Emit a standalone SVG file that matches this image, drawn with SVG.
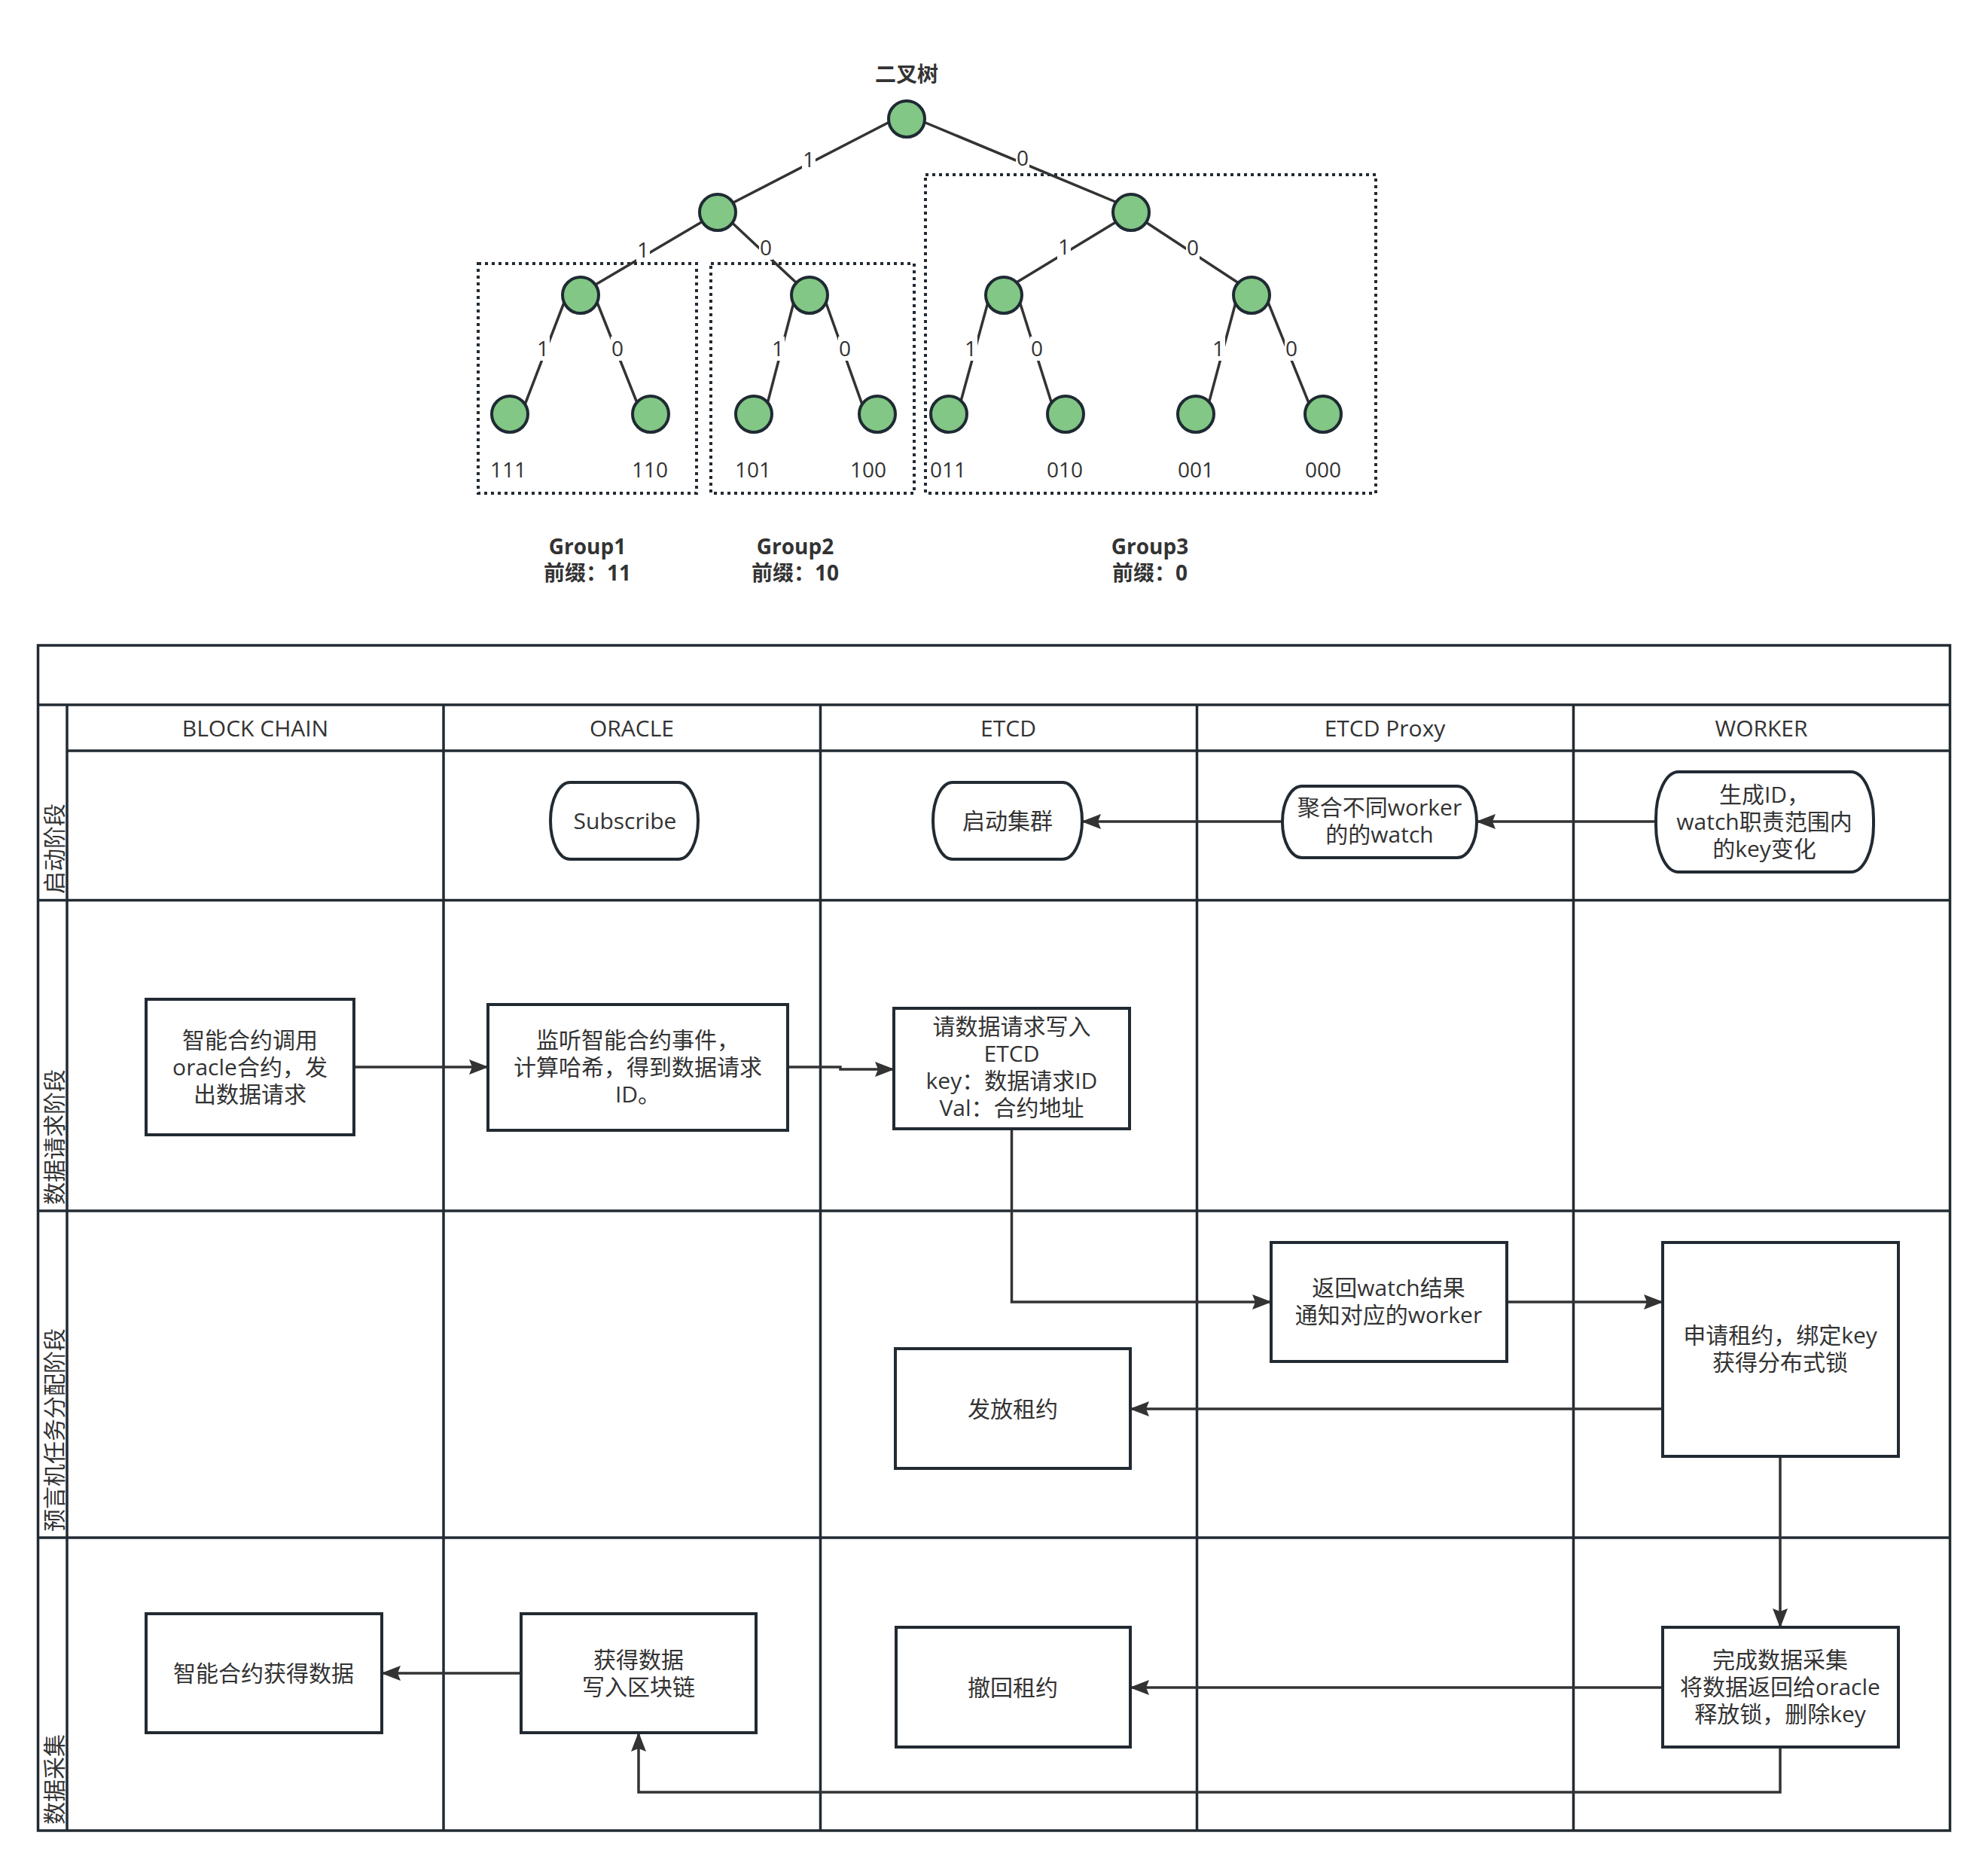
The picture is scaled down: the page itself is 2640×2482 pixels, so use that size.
<svg xmlns="http://www.w3.org/2000/svg" width="2640" height="2482" viewBox="0 0 2640 2482">
<style>
.t{font-family:"Open Sans","Noto Sans CJK SC",sans-serif;font-size:30px;fill:#333;text-anchor:middle}
.tl{font-family:"Open Sans","Noto Sans CJK SC",sans-serif;font-size:28px;fill:#333;text-anchor:middle}
.bt{font-family:"Open Sans","Noto Sans CJK SC",sans-serif;font-size:28px;font-weight:bold;fill:#333;text-anchor:middle}
.edge{stroke:#333;stroke-width:3.5;fill:none}
.tn{fill:#82c785;stroke:#1f2a33;stroke-width:4}
.lbg{fill:#fff}
.grp{fill:none;stroke:#222a32;stroke-width:4;stroke-dasharray:4 5}
.lane{stroke:#222a32;stroke-width:3.5;fill:none}
.box{fill:#fff;stroke:#222a32;stroke-width:4}
.conn{stroke:#333;stroke-width:3.5;fill:none}
.ph{font-family:"Noto Sans CJK SC",sans-serif;font-size:30px;fill:#333;dominant-baseline:central}
</style>
<defs>
<marker id="ah" viewBox="0 0 26 20" refX="25" refY="10" markerWidth="26" markerHeight="20" markerUnits="userSpaceOnUse" orient="auto">
<path d="M0,0 L26,10 L0,20 L4,10 Z" fill="#333"/>
</marker>
</defs>
<rect width="2640" height="2482" fill="#fff"/>

<!-- Binary tree -->
<g id="tree-title"><text class="bt" x="1204" y="109">二叉树</text></g>
<g id="groups">
<rect id="group1-box" class="grp" x="635" y="350" width="290" height="305"/>
<rect id="group2-box" class="grp" x="944" y="350" width="270" height="305"/>
<rect id="group3-box" class="grp" x="1229" y="232" width="598" height="423"/>
</g>
<g id="tree-edges">
<line class="edge" x1="1185" y1="160" x2="968" y2="272"/>
<line class="edge" x1="1222" y1="160" x2="1486" y2="270"/>
<line class="edge" x1="940" y1="290" x2="784" y2="382"/>
<line class="edge" x1="966" y1="290" x2="1058" y2="376"/>
<line class="edge" x1="1490" y1="290" x2="1345" y2="378"/>
<line class="edge" x1="1514" y1="290" x2="1648" y2="378"/>
<line class="edge" x1="752" y1="394" x2="696" y2="540"/>
<line class="edge" x1="790" y1="394" x2="848" y2="540"/>
<line class="edge" x1="1056" y1="394" x2="1018" y2="540"/>
<line class="edge" x1="1094" y1="394" x2="1146" y2="540"/>
<line class="edge" x1="1314" y1="394" x2="1274" y2="540"/>
<line class="edge" x1="1352" y1="394" x2="1398" y2="540"/>
<line class="edge" x1="1643" y1="394" x2="1604" y2="540"/>
<line class="edge" x1="1681" y1="394" x2="1740" y2="540"/>
</g>
<g id="tree-edge-labels">
<rect class="lbg" x="1065" y="196" width="18" height="32"/><text class="tl" x="1074" y="222">1</text>
<rect class="lbg" x="1349" y="194" width="18" height="32"/><text class="tl" x="1358" y="220">0</text>
<rect class="lbg" x="845" y="316" width="18" height="32"/><text class="tl" x="854" y="342">1</text>
<rect class="lbg" x="1008" y="313" width="18" height="32"/><text class="tl" x="1017" y="339">0</text>
<rect class="lbg" x="1404" y="312" width="18" height="32"/><text class="tl" x="1413" y="338">1</text>
<rect class="lbg" x="1575" y="313" width="18" height="32"/><text class="tl" x="1584" y="339">0</text>
<rect class="lbg" x="712" y="447" width="18" height="32"/><text class="tl" x="721" y="473">1</text>
<rect class="lbg" x="811" y="447" width="18" height="32"/><text class="tl" x="820" y="473">0</text>
<rect class="lbg" x="1024" y="447" width="18" height="32"/><text class="tl" x="1033" y="473">1</text>
<rect class="lbg" x="1113" y="447" width="18" height="32"/><text class="tl" x="1122" y="473">0</text>
<rect class="lbg" x="1280" y="447" width="18" height="32"/><text class="tl" x="1289" y="473">1</text>
<rect class="lbg" x="1368" y="447" width="18" height="32"/><text class="tl" x="1377" y="473">0</text>
<rect class="lbg" x="1609" y="447" width="18" height="32"/><text class="tl" x="1618" y="473">1</text>
<rect class="lbg" x="1706" y="447" width="18" height="32"/><text class="tl" x="1715" y="473">0</text>
</g>
<g id="tree-nodes">
<circle id="n-root" class="tn" cx="1204" cy="158" r="24"/>
<circle id="n-1" class="tn" cx="953" cy="282" r="24"/>
<circle id="n-0" class="tn" cx="1502" cy="282" r="24"/>
<circle id="n-11" class="tn" cx="771" cy="392" r="24"/>
<circle id="n-10" class="tn" cx="1075" cy="392" r="24"/>
<circle id="n-01" class="tn" cx="1333" cy="392" r="24"/>
<circle id="n-00" class="tn" cx="1662" cy="392" r="24"/>
<circle id="n-111" class="tn" cx="677" cy="550" r="24"/>
<circle id="n-110" class="tn" cx="864" cy="550" r="24"/>
<circle id="n-101" class="tn" cx="1001" cy="550" r="24"/>
<circle id="n-100" class="tn" cx="1165" cy="550" r="24"/>
<circle id="n-011" class="tn" cx="1260" cy="550" r="24"/>
<circle id="n-010" class="tn" cx="1415" cy="550" r="24"/>
<circle id="n-001" class="tn" cx="1588" cy="550" r="24"/>
<circle id="n-000" class="tn" cx="1757" cy="550" r="24"/>
</g>
<g id="leaf-labels">
<text class="tl" x="675" y="634">111</text>
<text class="tl" x="863" y="634">110</text>
<text class="tl" x="1000" y="634">101</text>
<text class="tl" x="1153" y="634">100</text>
<text class="tl" x="1259" y="634">011</text>
<text class="tl" x="1414" y="634">010</text>
<text class="tl" x="1588" y="634">001</text>
<text class="tl" x="1757" y="634">000</text>
</g>
<g id="group-labels">
<text class="bt" x="780" y="736">Group1<tspan x="780" dy="35">前缀：11</tspan></text>
<text class="bt" x="1056" y="736">Group2<tspan x="1056" dy="35">前缀：10</tspan></text>
<text class="bt" x="1527" y="736">Group3<tspan x="1527" dy="35">前缀：0</tspan></text>
</g>

<!-- Swimlane pool -->
<g id="pool">
<rect class="lane" x="50.5" y="857" width="2539" height="1574"/>
<line class="lane" x1="50.5" y1="936" x2="2589.5" y2="936"/>
<line class="lane" x1="89" y1="936" x2="89" y2="2431"/>
<line class="lane" x1="89" y1="997" x2="2589.5" y2="997"/>
<line class="lane" x1="50.5" y1="1195.5" x2="2589.5" y2="1195.5"/>
<line class="lane" x1="50.5" y1="1608" x2="2589.5" y2="1608"/>
<line class="lane" x1="50.5" y1="2042" x2="2589.5" y2="2042"/>
<line class="lane" x1="589" y1="936" x2="589" y2="2431"/>
<line class="lane" x1="1089.5" y1="936" x2="1089.5" y2="2431"/>
<line class="lane" x1="1589.5" y1="936" x2="1589.5" y2="2431"/>
<line class="lane" x1="2089.5" y1="936" x2="2089.5" y2="2431"/>
</g>
<g id="lane-headers">
<text class="t" x="339" y="978">BLOCK CHAIN</text>
<text class="t" x="839" y="978">ORACLE</text>
<text class="t" x="1339" y="978">ETCD</text>
<text class="t" x="1839" y="978">ETCD Proxy</text>
<text class="t" x="2339" y="978">WORKER</text>
</g>
<g id="phase-labels">
<text class="ph" transform="translate(70,1187) rotate(-90)">启动阶段</text>
<text class="ph" transform="translate(70,1600) rotate(-90)">数据请求阶段</text>
<text class="ph" transform="translate(70,2034) rotate(-90)">预言机任务分配阶段</text>
<text class="ph" transform="translate(70,2423) rotate(-90)">数据采集</text>
</g>

<!-- Connectors -->
<g id="connectors">
<line class="conn" x1="2199" y1="1091" x2="1961" y2="1091" marker-end="url(#ah)"/>
<line class="conn" x1="1703" y1="1091" x2="1437" y2="1091" marker-end="url(#ah)"/>
<line class="conn" x1="470" y1="1417" x2="648" y2="1417" marker-end="url(#ah)"/>
<path class="conn" d="M1046,1417 H1116 V1420 H1187" marker-end="url(#ah)"/>
<path class="conn" d="M1343.5,1499 V1729 H1688" marker-end="url(#ah)"/>
<line class="conn" x1="2001" y1="1729" x2="2208" y2="1729" marker-end="url(#ah)"/>
<line class="conn" x1="2208" y1="1871" x2="1501" y2="1871" marker-end="url(#ah)"/>
<line class="conn" x1="2364" y1="1934" x2="2364" y2="2161" marker-end="url(#ah)"/>
<line class="conn" x1="692" y1="2222" x2="507" y2="2222" marker-end="url(#ah)"/>
<line class="conn" x1="2208" y1="2241" x2="1501" y2="2241" marker-end="url(#ah)"/>
<path class="conn" d="M2364,2320 V2380 H848 V2301" marker-end="url(#ah)"/>
</g>

<!-- Nodes -->
<g id="node-subscribe"><rect class="box" x="731" y="1039" width="196" height="102" rx="26" ry="51"/><text class="t" x="830" y="1101">Subscribe</text></g>
<g id="node-start-cluster"><rect class="box" x="1239" y="1039" width="198" height="102" rx="26" ry="51"/><text class="t" x="1338" y="1101">启动集群</text></g>
<g id="node-aggregate"><rect class="box" x="1703" y="1044" width="258" height="95" rx="26" ry="47"/><text class="t" x="1832" y="1083">聚合不同worker<tspan x="1832" dy="36">的的watch</tspan></text></g>
<g id="node-gen-id"><rect class="box" x="2199" y="1025" width="289" height="133" rx="30" ry="62"/><text class="t" x="2343" y="1066">生成ID，<tspan x="2343" dy="36">watch职责范围内</tspan><tspan x="2343" dy="36">的key变化</tspan></text></g>
<g id="node-contract-call"><rect class="box" x="194" y="1327" width="276" height="180"/><text class="t" x="332" y="1392">智能合约调用<tspan x="332" dy="36">oracle合约，发</tspan><tspan x="332" dy="36">出数据请求</tspan></text></g>
<g id="node-listen"><rect class="box" x="648" y="1334" width="398" height="167"/><text class="t" x="847" y="1392">监听智能合约事件，<tspan x="847" dy="36">计算哈希，得到数据请求</tspan><tspan x="847" dy="36">ID。</tspan></text></g>
<g id="node-write-etcd"><rect class="box" x="1187" y="1339" width="313" height="160"/><text class="t" x="1343.5" y="1374">请数据请求写入<tspan x="1343.5" dy="36">ETCD</tspan><tspan x="1343.5" dy="36">key：数据请求ID</tspan><tspan x="1343.5" dy="36">Val：合约地址</tspan></text></g>
<g id="node-return-watch"><rect class="box" x="1688" y="1650" width="313" height="158"/><text class="t" x="1844" y="1721">返回watch结果<tspan x="1844" dy="36">通知对应的worker</tspan></text></g>
<g id="node-lease-apply"><rect class="box" x="2208" y="1650" width="313" height="284"/><text class="t" x="2364" y="1784">申请租约，绑定key<tspan x="2364" dy="36">获得分布式锁</tspan></text></g>
<g id="node-lease-grant"><rect class="box" x="1189" y="1791" width="312" height="159"/><text class="t" x="1345" y="1882">发放租约</text></g>
<g id="node-contract-get"><rect class="box" x="194" y="2143" width="313" height="158"/><text class="t" x="350" y="2233">智能合约获得数据</text></g>
<g id="node-get-data"><rect class="box" x="692" y="2143" width="312" height="158"/><text class="t" x="848" y="2215">获得数据<tspan x="848" dy="36">写入区块链</tspan></text></g>
<g id="node-lease-revoke"><rect class="box" x="1190" y="2161" width="311" height="159"/><text class="t" x="1345" y="2252">撤回租约</text></g>
<g id="node-finish"><rect class="box" x="2208" y="2161" width="313" height="159"/><text class="t" x="2364" y="2215">完成数据采集<tspan x="2364" dy="36">将数据返回给oracle</tspan><tspan x="2364" dy="36">释放锁，删除key</tspan></text></g>
</svg>
